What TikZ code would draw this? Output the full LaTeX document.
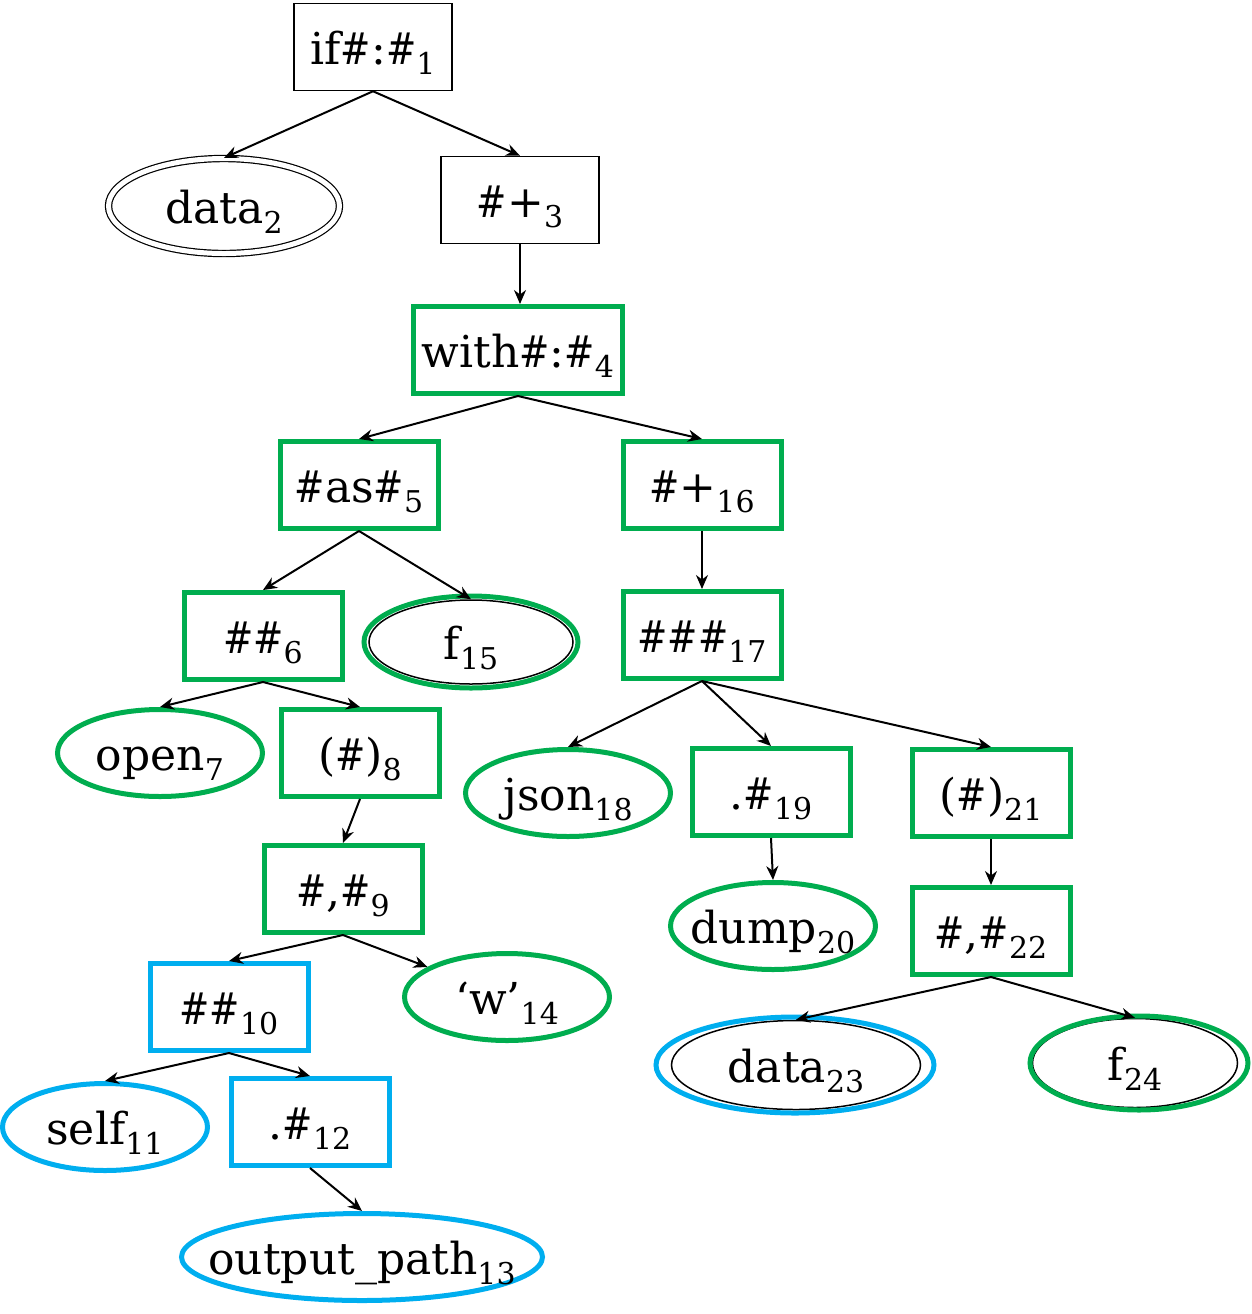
\documentclass[tikz,border=0pt]{standalone}
\usepackage{fontspec}
\usepackage{graphicx}
\setmainfont{DejaVu Serif}
\usetikzlibrary{shapes.geometric,arrows.meta}
\definecolor{astgreen}{RGB}{0,173,79}
\definecolor{astblue}{RGB}{0,174,239}
\newcommand{\idx}[1]{\raisebox{-5pt}{\fontsize{15pt}{15pt}\selectfont #1}}
\newcommand{\hs}{\scalebox{0.82}[1]{\#}}
\newcommand{\lb}[2]{\makebox[0pt]{#1\idx{#2}}}
\tikzset{
    op/.style={draw, rectangle, line width=0.75pt, minimum width=79pt, minimum height=43.5pt, inner sep=0pt, text height=19pt, text depth=2pt, font=\fontsize{22pt}{22pt}\selectfont},
    leaf/.style={draw, ellipse, line width=0.75pt, minimum width=102.5pt, minimum height=43.5pt, inner sep=0pt, text height=19pt, text depth=2pt, font=\fontsize{22pt}{22pt}\selectfont},
    grn/.style={draw=astgreen, line width=2.5pt},
    blu/.style={draw=astblue, line width=2.5pt},
    link/.style={->, >={Stealth[length=7pt, width=6pt]}, line width=1pt}
}
\begin{document}
\begin{tikzpicture}[x=0.5pt, y=-0.5pt]
        \useasboundingbox (0,0) rectangle (1252,1314);

        % Root and first level
        \node[op] (n1) at (373,47) {\lb{if\hs:\hs}{1}};
        \node[leaf, double, line width=0.6pt, double distance=2.5pt, minimum width=115.5pt, minimum height=47.5pt] (n2) at (224,206) {\lb{data}{2}};
        \node[op] (n3) at (520,200) {\lb{\hs+}{3}};

        % Green subtree
        \node[op, grn, minimum width=104.5pt] (n4) at (518,350) {\lb{with\hs:\hs}{4}};
        \node[op, grn] (n5) at (359,485) {\lb{\hs as\hs}{5}};
        \node[op, grn] (n16) at (702,485) {\lb{\hs+}{16}};
        \node[op, grn] (n6) at (263,636) {\lb{\hs\hs}{6}};
        \node[leaf, minimum width=102pt, minimum height=42pt] (n15) at (471,642) {\lb{f}{15}};
        \node[op, grn] (n17) at (702,635) {\lb{\hs\hs\hs}{17}};
        \node[leaf, grn] (n7) at (160,753) {\lb{open}{7}};
        \node[op, grn] (n8) at (360,753) {\lb{(\hs)}{8}};
        \node[leaf, grn] (n18) at (568,793) {\lb{json}{18}};
        \node[op, grn] (n19) at (771,792) {\lb{.\hs}{19}};
        \node[op, grn] (n21) at (991,793) {\lb{(\hs)}{21}};
        \node[op, grn] (n9) at (343,889) {\lb{\hs,\hs}{9}};
        \node[leaf, grn] (n20) at (773,926) {\lb{dump}{20}};
        \node[op, grn] (n22) at (991,931) {\lb{\hs,\hs}{22}};
        \node[leaf, grn] (n14) at (507,997) {\lb{`w'}{14}};
        \node[leaf, minimum width=124.5pt, minimum height=44.5pt] (n23) at (796,1065) {\lb{data}{23}};
        \node[leaf, minimum width=102.5pt, minimum height=44.5pt] (n24) at (1135,1063) {\lb{f}{24}};

        % Blue subtree
        \node[op, blu] (n10) at (229,1007) {\lb{\hs\hs}{10}};
        \node[leaf, blu] (n11) at (105,1127) {\lb{self}{11}};
        \node[op, blu] (n12) at (310,1122) {\lb{.\hs}{12}};
        \node[leaf, blu, minimum width=180.5pt] (n13) at (362,1257) {\lb{output\_path}{13}};

        % Outer rings
        \draw[grn] (n15.center) ellipse [x radius=53.5pt, y radius=23pt];
        \draw[blu] (795,1065) ellipse [x radius=69.5pt, y radius=24pt];
        \draw[grn] (1139,1063) ellipse [x radius=54.5pt, y radius=23.5pt];

        % Arrows
        \draw[link] (n1.south) -- (n2.north);
        \draw[link] (n1.south) -- (n3.north);
        \draw[link] (n3.south) -- (n3.south |- n4.north);
        \draw[link] (n4.south) -- (n5.north);
        \draw[link] (n4.south) -- (n16.north);
        \draw[link] (n5.south) -- (n6.north);
        \draw[link] (n5.south) -- (n15.north);
        \draw[link] (n16.south) -- (n17.north);
        \draw[link] (n6.south) -- (n7.north);
        \draw[link] (n6.south) -- (n8.north);
        \draw[link] (n8.south) -- (n9.north);
        \draw[link] (n17.south) -- (n18.north);
        \draw[link] (n17.south) -- (n19.north);
        \draw[link] (n17.south) -- (n21.north);
        \draw[link] (n19.south) -- (n20.north);
        \draw[link] (n21.south) -- (n22.north);
        \draw[link] (n9.south) -- (n10.north);
        \draw[link] (n9.south) -- (n14);
        \draw[link] (n10.south) -- (n11.north);
        \draw[link] (n10.south) -- (n12.north);
        \draw[link] (n22.south) -- (n23.north);
        \draw[link] (n22.south) -- (n24.north);
        \draw[link] (n12.south) -- (n13.north);
\end{tikzpicture}
\end{document}
